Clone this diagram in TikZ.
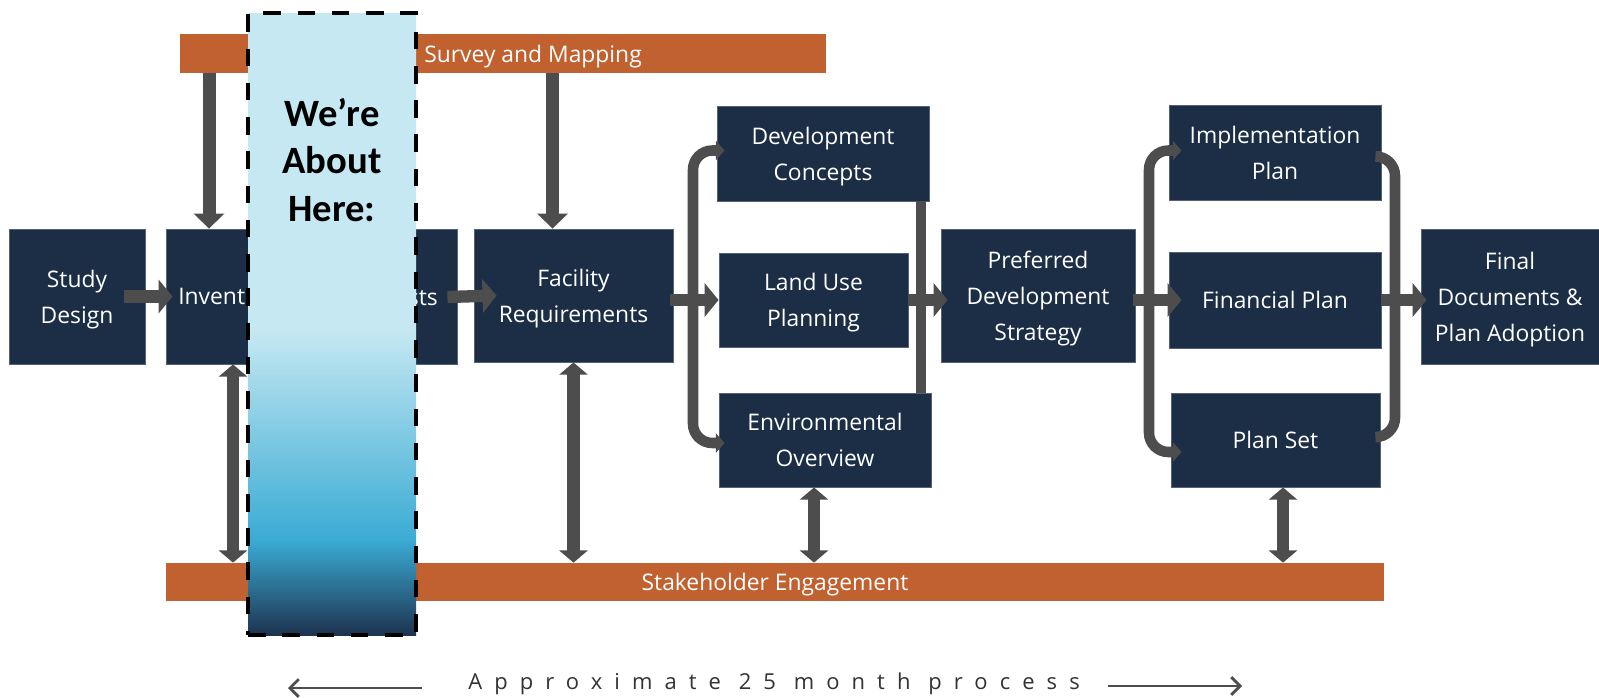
\documentclass[tikz,border=0pt]{standalone}
\usepackage{fontspec}
\setmainfont{Open Sans}
\newfontfamily\herefont{Carlito}
\newfontfamily\spacedfont[LetterSpace=55]{Open Sans}
\usetikzlibrary{arrows.meta}

\definecolor{navy}{HTML}{1B2E45}
\definecolor{rust}{HTML}{C0612F}
\definecolor{arrowgray}{HTML}{4D4D4D}
\definecolor{herelight}{HTML}{C5E8F2}
\definecolor{hereblue}{HTML}{3AABD4}
\definecolor{heredark}{HTML}{1D3350}

\newlength\unitpx
\setlength\unitpx{0.02cm}

% light on top, blue band, dark at the foot
\pgfdeclareverticalshading{hereshade}{100bp}{color(0bp)=(heredark); color(25bp)=(heredark); color(32.6bp)=(hereblue); color(49.5bp)=(herelight); color(100bp)=(herelight)}

\begin{document}
\begin{tikzpicture}[
  x=0.02cm, y=-0.02cm,
  size/.style 2 args={minimum width=#1\unitpx, minimum height=#2\unitpx},
  box/.style={rectangle, fill=navy, draw=navy!75!white, line width=0.5pt, text=white, align=center, inner sep=0pt, text depth=0pt, font={\fontsize{13}{20.5}\selectfont}},
  bar/.style={rectangle, fill=rust, inner sep=0pt, text=white, text depth=0pt, font={\fontsize{13}{16}\selectfont}},
  flow/.style={draw=arrowgray, line width=7pt, -{Triangle[length=8pt,width=19pt]}},
  feed/.style={draw=arrowgray, line width=7.4pt, -{Triangle[length=8.5pt,width=17pt]}},
  both/.style={draw=arrowgray, line width=7pt, {Triangle[length=7pt,width=16pt]}-{Triangle[length=7pt,width=16pt]}},
  branch/.style={draw=arrowgray, line width=6pt, rounded corners=11pt},
  tip/.style={-{Triangle[length=5pt,width=11pt]}},
  span/.style={draw=arrowgray, line width=1.6pt, -{Straight Barb[length=5pt,width=10pt]}},
  here/.style={rectangle, shading=hereshade, draw=black, line width=2.6pt, dash pattern=on 10pt off 9.5pt}
]
  \useasboundingbox (0,0) rectangle (1599,697);

  % process boxes
  \node[box, size={136}{135}] (study) at (77,296.5) {Study\\Design};
  \node[box, size={126}{135}] (inventory) at (229,296.5) {Inventory};
  \node[box, size={139}{135}] (forecasts) at (387.5,297) {Forecasts};
  \node[box, size={199}{133}] (facility) at (573.5,295.5) {Facility\\Requirements};
  \node[box, size={212}{95}] (devcon) at (823,153.5) {Development\\Concepts};
  \node[box, size={189}{94}] (landuse) at (813.5,300) {Land Use\\Planning};
  \node[box, size={212}{94}] (envover) at (825,440) {Environmental\\Overview};
  \node[box, size={194}{133}] (preferred) at (1038,295.5) {Preferred\\Development\\Strategy};
  \node[box, size={212}{95}] (implplan) at (1275,152.5) {Implementation\\Plan};
  \node[box, size={212}{96}] (finplan) at (1275,300) {Financial Plan};
  \node[box, size={209}{94}] (planset) at (1275.5,440) {Plan Set};
  \node[box, size={178}{135}] (final) at (1510,296.5) {Final\\Documents \&\\Plan Adoption};

  % orange bands
  \node[bar, size={646}{39}] (survey) at (503,53.5) {};
  \node[bar, fill=none, anchor=west] (surveytext) at (424,53.5) {Survey and Mapping};
  \node[bar, size={1218}{38}] (stake) at (775,582) {Stakeholder Engagement};

  % split and join points
  \coordinate (fork1) at (693,300);
  \coordinate (merge1) at (921,300);
  \coordinate (fork2) at (1149,300);
  \coordinate (merge2) at (1395,300);

  \draw[branch, tip] (fork1) |- ([shift={(8,-3)}]devcon.west);
  \draw[branch, tip] (fork1) |- ([shift={(6,3)}]envover.west);
  \draw[branch] (devcon.south -| merge1) -- (envover.north -| merge1);
  \draw[branch, tip] (fork2) |- ([shift={(13,-2)}]implplan.west);
  \draw[branch, tip] (fork2) |- ([shift={(11,12)}]planset.west);
  \draw[branch] ([shift={(0,4)}]implplan.east) -| (merge2) |- ([shift={(0,-3)}]planset.east);

  % main flow
  \draw[flow] ([shift={(-21,0)}]study.east) -- ([shift={(7,0)}]inventory.west);
  \draw[flow] ([shift={(-10,0)}]inventory.east) -- ([shift={(12,0)}]forecasts.west);
  \draw[flow] ([shift={(-10,0)}]forecasts.east) -- ([shift={(23,0)}]facility.west);
  \draw[flow] ([shift={(-3,0)}]facility.east |- landuse.west) -- (landuse.west);
  \draw[flow] (landuse.east) -- ([shift={(7,0)}]preferred.west |- landuse.east);
  \draw[flow] ([shift={(-2,0)}]preferred.east |- finplan.west) -- ([shift={(13,0)}]finplan.west);
  \draw[flow] (finplan.east) -- ([shift={(6,0)}]final.west |- finplan.east);

  % survey feeds
  \draw[feed] ([shift={(-20,0)}]inventory.north |- survey.south) -- ([shift={(-20,0)}]inventory.north);
  \draw[feed] ([shift={(-21,0)}]facility.north |- survey.south) -- ([shift={(-21,0)}]facility.north);

  % stakeholder links
  \draw[both] ([shift={(4,0)}]inventory.south) -- ([shift={(4,0)}]inventory.south |- stake.north);
  \draw[both] (facility.south) -- (facility.south |- stake.north);
  \draw[both] ([shift={(-11,0)}]envover.south) -- ([shift={(-11,0)}]envover.south |- stake.north);
  \draw[both] ([shift={(7.5,0)}]planset.south) -- ([shift={(7.5,0)}]planset.south |- stake.north);

  % current position marker
  \node[here, size={168}{622}] (here) at (332,324) {};
  \node[align=center, font={\herefont\bfseries\fontsize{22}{27}\selectfont}] (herelabel) at (332,160) {We’re\\About\\Here:};

  % time line
  \node[font={\spacedfont\fontsize{12.5}{15}\selectfont}, text=black!80] (duration) at (774,684) {Approximate 25 month process};
  \coordinate (startmark) at (288,688);
  \coordinate (endmark) at (1242,686);
  \draw[span] ([shift={(-40,0)}]duration.west |- startmark) -- (startmark);
  \draw[span] ([shift={(22,0)}]duration.east |- endmark) -- (endmark);
\end{tikzpicture}
\end{document}
